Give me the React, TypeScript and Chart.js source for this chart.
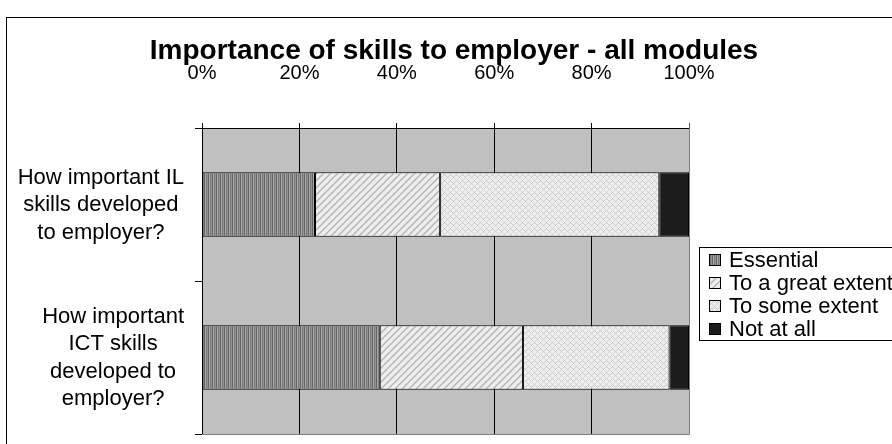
import React, { useEffect, useRef } from 'react';
import { Chart, registerables } from 'chart.js';

Chart.register(...registerables);

const TITLE = 'Importance of skills to employer - all modules';
const categories: string[][] = [
  ['How important IL', 'skills developed', 'to employer?'],
  ['How important', 'ICT skills', 'developed to', 'employer?'],
];
const seriesNames = ['Essential', 'To a great extent', 'To some extent', 'Not at all'];
const essential = [23.2, 36.5];
const greatExtent = [25.7, 29.4];
const someExtent = [45.0, 30.1];
const notAtAll = [6.1, 4.0];
const xTickValues = [0, 20, 40, 60, 80, 100];

const FONT = '"Liberation Sans", Arial, sans-serif';

function makePattern(kind: string): CanvasPattern | string {
  const c = document.createElement('canvas');
  const ctx = c.getContext('2d');
  if (!ctx) return '#888';
  if (kind === 'vstripe') {
    c.width = 4; c.height = 1;
    const cols = ['#666666', '#a6a6a6', '#7a7a7a', '#939393'];
    cols.forEach((col, i) => { ctx.fillStyle = col; ctx.fillRect(i, 0, 1, 1); });
  } else if (kind === 'diag') {
    c.width = 7; c.height = 7;
    ctx.fillStyle = '#eeeeee';
    ctx.fillRect(0, 0, 7, 7);
    ctx.strokeStyle = '#b4b4b4';
    ctx.lineWidth = 1.4;
    ctx.beginPath();
    ctx.moveTo(-1, 8); ctx.lineTo(8, -1);
    ctx.moveTo(-4, 4); ctx.lineTo(4, -4);
    ctx.moveTo(3, 11); ctx.lineTo(11, 3);
    ctx.stroke();
  } else if (kind === 'lattice') {
    c.width = 6; c.height = 6;
    ctx.fillStyle = '#eeeeee';
    ctx.fillRect(0, 0, 6, 6);
    ctx.fillStyle = '#c6c6c6';
    ctx.fillRect(0, 0, 1, 1); ctx.fillRect(3, 3, 1, 1);
    ctx.fillRect(1, 1, 1, 1); ctx.fillRect(2, 2, 1, 1);
    ctx.fillRect(4, 2, 1, 1); ctx.fillRect(5, 1, 1, 1);
    ctx.fillStyle = '#d6d6d6';
    ctx.fillRect(4, 4, 1, 1); ctx.fillRect(2, 4, 1, 1);
    ctx.fillRect(5, 5, 1, 1); ctx.fillRect(1, 5, 1, 1);
  } else {
    return '#1c1c1c';
  }
  const p = ctx.createPattern(c, 'repeat');
  return p || '#888';
}

const decorPlugin = {
  id: 'decor',
  beforeDraw(chart: any) {
    const ctx = chart.ctx as CanvasRenderingContext2D;
    const a = chart.chartArea;
    ctx.save();
    ctx.fillStyle = '#ffffff';
    ctx.fillRect(0, 0, chart.width, chart.height);
    ctx.strokeStyle = '#000000';
    ctx.lineWidth = 1;
    ctx.strokeRect(6.5, 17.5, 2000, 2000);
    ctx.fillStyle = '#c0c0c0';
    ctx.fillRect(a.left, a.top, a.right - a.left, a.bottom - a.top);
    ctx.restore();
  },
  afterDraw(chart: any) {
    const ctx = chart.ctx as CanvasRenderingContext2D;
    const a = chart.chartArea;
    ctx.save();
    // plot edges right & bottom
    ctx.strokeStyle = '#808080';
    ctx.lineWidth = 1;
    ctx.beginPath();
    ctx.moveTo(a.right + 0.5, a.top);
    ctx.lineTo(a.right + 0.5, a.bottom + 0.5);
    ctx.lineTo(a.left, a.bottom + 0.5);
    ctx.stroke();
    // title
    ctx.fillStyle = '#000000';
    ctx.font = `bold 28px ${FONT}`;
    ctx.textAlign = 'center';
    ctx.textBaseline = 'alphabetic';
    ctx.fillText(TITLE, 454, 59);
    // category labels
    const yScale = chart.scales.y;
    ctx.font = `22px ${FONT}`;
    ctx.textBaseline = 'middle';
    const lh = 27.5;
    categories.forEach((lines, i) => {
      const cy = yScale.getPixelForValue(i) + 0.5;
      const w = Math.max(...lines.map((l) => ctx.measureText(l).width));
      const cx = 184 - w / 2;
      const y0 = cy - ((lines.length - 1) * lh) / 2;
      lines.forEach((l, j) => ctx.fillText(l, cx, y0 + j * lh));
    });
    // legend
    const lx = 699.5, ly = 247.5;
    ctx.strokeStyle = '#000000';
    ctx.strokeRect(lx, ly, 400, 93);
    ctx.font = `22px ${FONT}`;
    ctx.textAlign = 'left';
    chart.data.datasets.forEach((ds: any, i: number) => {
      const y = 260 + i * 23;
      ctx.fillStyle = ds.backgroundColor;
      ctx.fillRect(709, y - 6, 12, 12);
      ctx.strokeStyle = '#000000';
      ctx.strokeRect(709.5, y - 5.5, 11, 11);
      ctx.fillStyle = '#000000';
      ctx.fillText(ds.label, 729, y + 1);
    });
    ctx.restore();
  },
};

export default function App() {
  const ref = useRef<HTMLCanvasElement | null>(null);
  useEffect(() => {
    if (!ref.current) return;
    const fills = [makePattern('vstripe'), makePattern('diag'), makePattern('lattice'), makePattern('solid')];
    const values = [essential, greatExtent, someExtent, notAtAll];
    const chart = new Chart(ref.current, {
      type: 'bar',
      data: {
        labels: categories.map((c) => c.join(' ')),
        datasets: seriesNames.map((name, i) => ({
          label: name,
          data: values[i],
          backgroundColor: fills[i] as any,
          borderColor: '#000000',
          borderWidth: 1,
          borderSkipped: false,
          categoryPercentage: 1,
          barPercentage: 0.42,
        })),
      },
      options: {
        indexAxis: 'y',
        responsive: false,
        animation: false,
        devicePixelRatio: 1,
        layout: { padding: { left: 0, top: 0, right: 203, bottom: 10 } },
        plugins: {
          legend: { display: false },
          title: { display: false },
          tooltip: { enabled: false },
        },
        scales: {
          x: {
            position: 'top',
            stacked: true,
            min: 0,
            max: 100,
            afterFit: (s: any) => { s.height = 128; },
            afterBuildTicks: (s: any) => { s.ticks = xTickValues.map((v) => ({ value: v })); },
            ticks: {
              stepSize: 20,
              padding: 38,
              color: '#000000',
              font: { family: FONT, size: 20 },
              callback: (v: any) => `${v}%`,
            },
            grid: {
              color: (c: any) => (c.tick && c.tick.value === 100 ? '#555555' : '#000000'),
              lineWidth: 1,
              tickLength: 5,
              drawTicks: true,
            },
            border: { color: '#000000', width: 1 },
          },
          y: {
            stacked: true,
            afterFit: (s: any) => { s.width = 202; },
            ticks: { display: false },
            grid: {
              drawOnChartArea: false,
              drawTicks: true,
              tickLength: 7,
              color: '#000000',
              offset: true,
            },
            border: { color: '#000000', width: 1 },
          },
        },
      },
      plugins: [decorPlugin],
    } as any);
    return () => chart.destroy();
  }, []);
  return (
    <canvas
      ref={ref}
      width={892}
      height={444}
      style={{ position: 'fixed', left: 0, top: 0, width: 892, height: 444 }}
    />
  );
}
